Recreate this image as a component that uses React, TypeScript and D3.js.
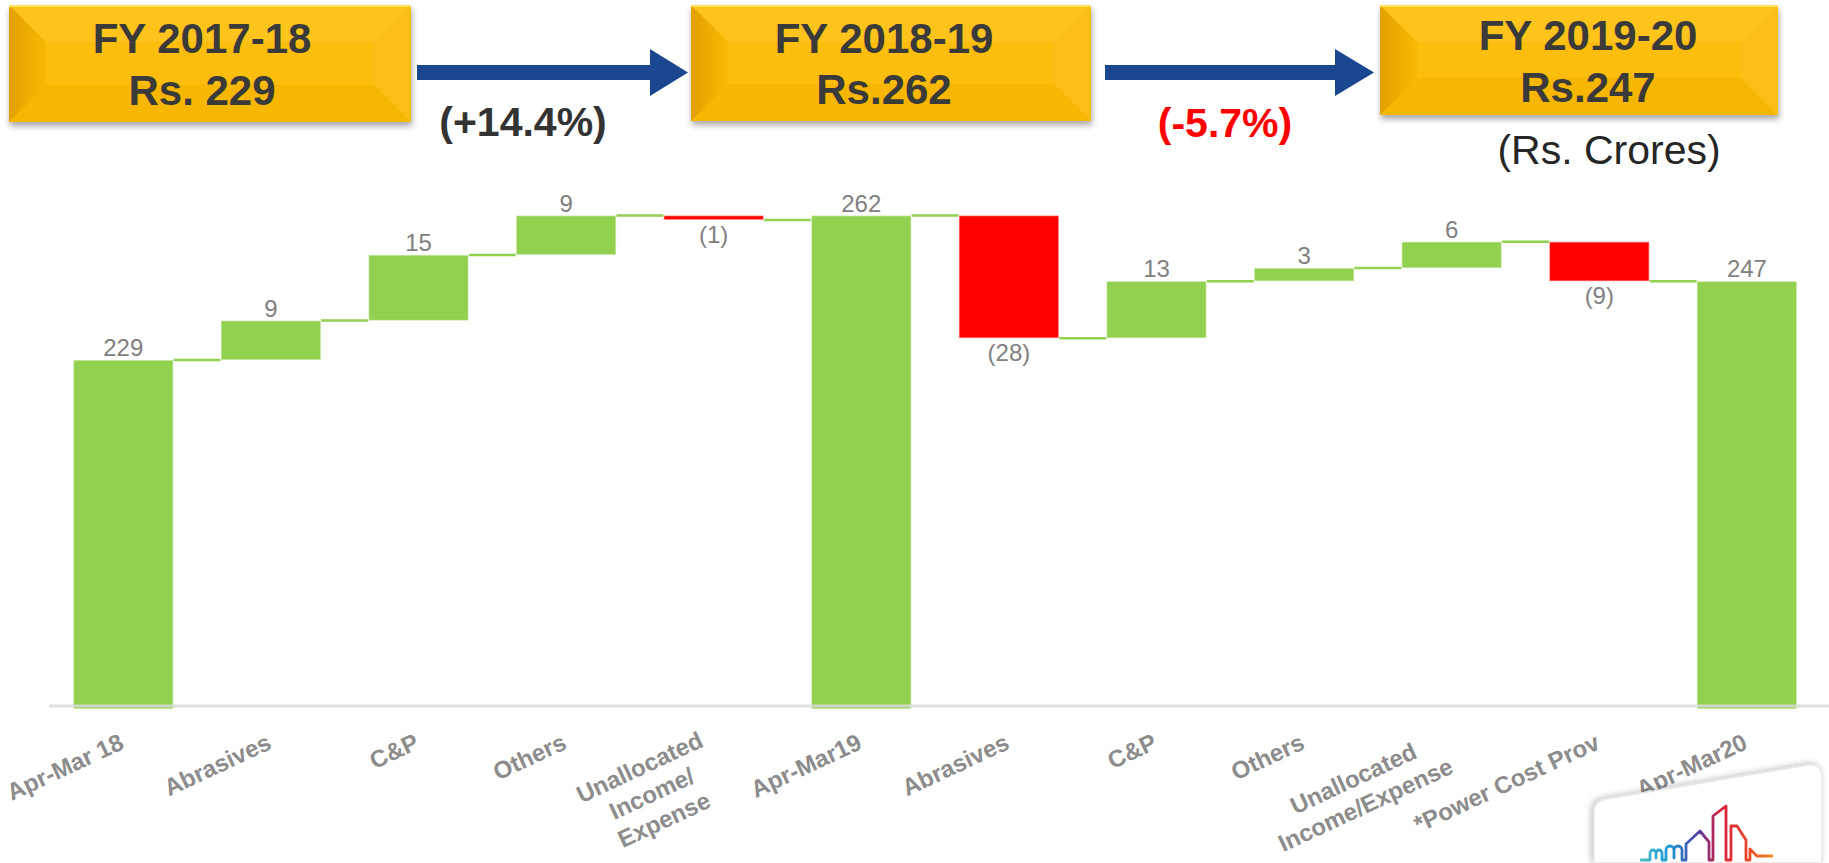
import React, { useMemo } from 'react';
import * as d3 from 'd3';

// ---------- data ----------
const categories: string[][] = [
  ['Apr-Mar 18'],
  ['Abrasives'],
  ['C&P'],
  ['Others'],
  ['Unallocated', 'Income/', 'Expense'],
  ['Apr-Mar19'],
  ['Abrasives'],
  ['C&P'],
  ['Others'],
  ['Unallocated', 'Income/Expense'],
  ['*Power Cost Prov'],
  ['Apr-Mar20'],
];
const values = [229, 9, 15, 9, -1, 262, -28, 13, 3, 6, -9, 247];
const isTotal = [true, false, false, false, false, true, false, false, false, false, false, true];
const yDomain = [150, 262];

const headerYears = ['FY 2017-18', 'FY 2018-19', 'FY 2019-20'];
const headerAmounts = ['Rs. 229', 'Rs.262', 'Rs.247'];
const changeLabels = ['(+14.4%)', '(-5.7%)'];
const unitLabel = '(Rs. Crores)';

// ---------- layout ----------
const W = 1829;
const H = 863;
const FONT = "'Liberation Sans', Arial, Helvetica, sans-serif";
const GREEN = '#92D050';
const RED = '#FF0000';
const LABEL_GRAY = '#808080';
const AXIS_GRAY = '#8c8c8c';
const TEXT_DARK = '#3a3a3a';

const boxes = [
  { x: 9, y: 5, w: 402, h: 117, tx: 202, b1: 53, b2: 105 },
  { x: 691, y: 5, w: 400, h: 116, tx: 884, b1: 53, b2: 104 },
  { x: 1380, y: 5, w: 398, h: 110, tx: 1588, b1: 50, b2: 102 },
];
const arrows = [
  { x0: 417, x1: 650, tip: 688 },
  { x0: 1105, x1: 1335, tip: 1374 },
];
const changePos = [
  { x: 523, y: 136, color: '#333333' },
  { x: 1225, y: 137, color: RED },
];

const ANGLE = 25;
const LH = 29;

function GoldBox({ x, y, w, h, id }: { x: number; y: number; w: number; h: number; id: string }) {
  const b = 37;
  const bv = Math.min(37, h / 2 - 12);
  const ix0 = x + b, ix1 = x + w - b, iy0 = y + bv, iy1 = y + h - bv;
  return (
    <g filter="url(#boxShadow)">
      <rect x={x} y={y} width={w} height={h} fill="#FCBD0A" />
      <polygon points={`${x},${y} ${x + w},${y} ${ix1},${iy0} ${ix0},${iy0}`} fill="#FFC41E" />
      <polygon points={`${x},${y + h} ${x + w},${y + h} ${ix1},${iy1} ${ix0},${iy1}`} fill="#F7B600" />
      <polygon points={`${x},${y} ${ix0},${iy0} ${ix0},${iy1} ${x},${y + h}`} fill={`url(#leftBevel${id})`} />
      <polygon points={`${x + w},${y} ${ix1},${iy0} ${ix1},${iy1} ${x + w},${y + h}`} fill="#FBBE12" />
      <rect x={ix0} y={iy0} width={ix1 - ix0} height={iy1 - iy0} fill="#FCBD0A" />
      <line x1={x} y1={y + 1} x2={x + w} y2={y + 1} stroke="#FFE35A" strokeWidth={2} />
      <defs>
        <linearGradient id={`leftBevel${id}`} x1={x} x2={ix0} y1={0} y2={0} gradientUnits="userSpaceOnUse">
          <stop offset="0" stopColor="#E3A000" />
          <stop offset="1" stopColor="#F8B905" />
        </linearGradient>
      </defs>
    </g>
  );
}

export default function App() {
  const x = d3
    .scaleBand<number>()
    .domain(d3.range(values.length))
    .range([49.5, 49.5 + 147.6 * values.length])
    .paddingInner(0.3225)
    .paddingOuter(0.16125);
  const y = d3.scaleLinear().domain(yDomain).range([706, 215.5]);

  const steps = useMemo(() => {
    let running = 0;
    return values.map((v, i) => {
      let start: number, end: number;
      if (isTotal[i]) {
        start = yDomain[0];
        end = v;
        running = v;
      } else {
        start = running;
        end = running + v;
        running = end;
      }
      return { i, v, start, end, total: isTotal[i] };
    });
  }, []);

  const measure = useMemo(() => {
    const c = document.createElement('canvas').getContext('2d');
    return (s: string) => {
      if (!c) return s.length * 13;
      c.font = `bold 24px ${FONT}`;
      return c.measureText(s).width;
    };
  }, []);

  const bw = x.bandwidth();
  const y0 = y(yDomain[0]);
  const fmt = (v: number) => (v < 0 ? `(${Math.abs(v)})` : `${v}`);

  const skyline =
    'M1640 860 H1650 V853 a3 3 0 0 1 6 0 V858 V853 a3 3 0 0 1 6 0 V860 H1666 V850 a4 4 0 0 1 8 0 V858 V850 a4 4 0 0 1 8 0 V860 H1686 V844 L1700 831 L1709 842 V860 H1713 V816 L1726 806 V860 H1731 V826 H1737 L1746 840 V860 H1750 V849 L1757 856 H1773';

  return (
    <div style={{ position: 'absolute', left: 0, top: 0, width: W, height: H, background: '#fff', overflow: 'hidden' }}>
      <svg width={W} height={H} style={{ display: 'block' }} fontFamily={FONT}>
        <defs>
          <filter id="boxShadow" x="-5%" y="-10%" width="110%" height="130%">
            <feDropShadow dx="1" dy="4" stdDeviation="3" floodColor="#000" floodOpacity="0.35" />
          </filter>
          <filter id="cardShadow" x="-20%" y="-20%" width="140%" height="140%">
            <feDropShadow dx="-2" dy="-1" stdDeviation="3" floodColor="#000" floodOpacity="0.25" />
          </filter>
          <linearGradient id="skyGrad" x1="1640" x2="1773" y1="0" y2="0" gradientUnits="userSpaceOnUse">
            <stop offset="0" stopColor="#4CBFC4" />
            <stop offset="0.22" stopColor="#1C98D6" />
            <stop offset="0.45" stopColor="#5B3C9C" />
            <stop offset="0.6" stopColor="#D71F3C" />
            <stop offset="0.8" stopColor="#E8452B" />
            <stop offset="1" stopColor="#F28A1E" />
          </linearGradient>
        </defs>

        {boxes.map((bx, i) => (
          <g key={`box${i}`}>
            <GoldBox x={bx.x} y={bx.y} w={bx.w} h={bx.h} id={String(i)} />
            <text x={bx.tx} y={bx.b1} textAnchor="middle" fontSize={42} fontWeight="bold" fill={TEXT_DARK}>
              {headerYears[i]}
            </text>
            <text x={bx.tx} y={bx.b2} textAnchor="middle" fontSize={42} fontWeight="bold" fill={TEXT_DARK}>
              {headerAmounts[i]}
            </text>
          </g>
        ))}

        {arrows.map((a, i) => (
          <polygon
            key={`arr${i}`}
            points={`${a.x0},65 ${a.x1},65 ${a.x1},49 ${a.tip},72.5 ${a.x1},96 ${a.x1},80 ${a.x0},80`}
            fill="#1B4690"
          />
        ))}

        {changeLabels.map((t, i) => (
          <text
            key={`chg${i}`}
            x={changePos[i].x}
            y={changePos[i].y}
            textAnchor="middle"
            fontSize={41}
            fontWeight="bold"
            fill={changePos[i].color}
          >
            {t}
          </text>
        ))}
        <text x={1609} y={164} textAnchor="middle" fontSize={41} fill="#262626">
          {unitLabel}
        </text>

        {steps.slice(0, -1).map((s, i) => (
          <line
            key={`con${i}`}
            x1={(x(i) as number) + bw}
            x2={x(i + 1) as number}
            y1={y(s.end)}
            y2={y(s.end)}
            stroke={GREEN}
            strokeWidth={2.5}
          />
        ))}

        {steps.map((s) => {
          const top = y(Math.max(s.start, s.end));
          const bot = s.total ? y0 + 3 : y(Math.min(s.start, s.end));
          return (
            <rect
              key={`bar${s.i}`}
              x={x(s.i)}
              y={top}
              width={bw}
              height={Math.max(2, bot - top)}
              fill={s.v < 0 ? RED : GREEN}
              stroke="rgba(255,255,255,0.55)"
              strokeWidth={1.5}
            />
          );
        })}

        <line x1={49} x2={W} y1={y0} y2={y0} stroke="#d9d9d9" strokeOpacity={0.85} strokeWidth={3} />

        {steps.map((s) => {
          const cx = (x(s.i) as number) + bw / 2;
          const ty = s.v < 0 ? y(s.end) + 23 : y(s.end) - 4;
          return (
            <text key={`lab${s.i}`} x={cx} y={ty} textAnchor="middle" fontSize={24} fill={LABEL_GRAY}>
              {fmt(s.v)}
            </text>
          );
        })}

        {/* rotated category labels */}
        {categories.map((lines, i) => {
          const cx = (x(i) as number) + bw / 2;
          const multi = lines.length > 1;
          const ax = multi ? cx - 9 : cx + 2;
          const ay = multi ? 746 : 748;
          const maxW = Math.max(...lines.map((l) => measure(l)));
          return (
            <g key={`cat${i}`} transform={`translate(${ax},${ay})`}>
              <g transform={`rotate(${-ANGLE})`}>
                {lines.map((ln, j) => (
                  <text
                    key={j}
                    x={-maxW / 2}
                    y={j * LH}
                    textAnchor="middle"
                    fontSize={24}
                    fontWeight="bold"
                    fill={AXIS_GRAY}
                  >
                    {ln}
                  </text>
                ))}
              </g>
            </g>
          );
        })}

        <path
          d="M1594 863 V812 Q1594 801 1606 799 L1808 765 Q1822 763 1822 777 V863 Z"
          fill="#ffffff"
          stroke="#e6e6e6"
          strokeWidth={1.5}
          filter="url(#cardShadow)"
        />
        <path d={skyline} fill="none" stroke="url(#skyGrad)" strokeWidth={2.8} strokeLinejoin="round" />
      </svg>
    </div>
  );
}
